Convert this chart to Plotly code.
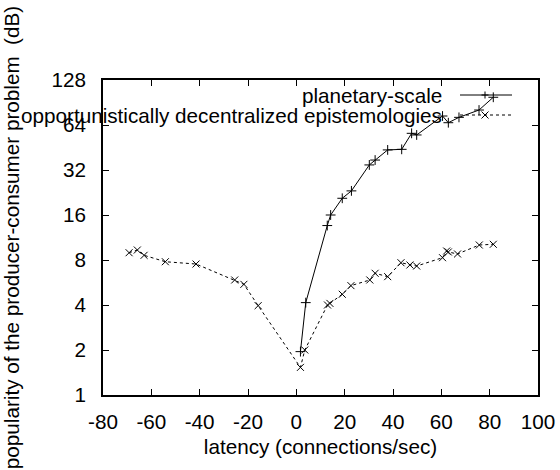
import plotly.graph_objects as go

# ---- data ----
planetary_x = [1.7, 3.9, 12.8, 14.2, 19.0, 22.8, 30.2, 32.6, 37.8, 43.6, 47.7, 49.8,
               60.5, 62.9, 67.3, 75.6, 81.5]
planetary_y = [1.95, 4.15, 13.6, 16.0, 20.7, 23.2, 34.6, 37.3, 43.6, 44.0, 56.3, 54.9,
               73.5, 66.3, 72.0, 80.6, 98.1]

episte_x = [-69.2, -65.8, -63.0, -54.2, -41.5, -25.5, -21.7, -15.8, 1.7, 3.5, 12.9, 13.9,
            19.0, 22.6, 30.4, 32.6, 37.8, 43.3, 47.0, 49.8, 60.5, 62.2, 62.9, 66.7, 75.7, 81.5]
episte_y = [8.95, 9.33, 8.60, 7.79, 7.52, 5.88, 5.50, 3.96, 1.53, 2.0, 4.0, 4.1,
            4.72, 5.39, 5.88, 6.52, 6.19, 7.67, 7.41, 7.29, 8.29, 9.19, 9.05, 8.78, 10.08, 10.19]

series_names = ["planetary-scale", "opportunistically decentralized epistemologies"]
x_ticks = [-80, -60, -40, -20, 0, 20, 40, 60, 80, 100]
y_ticks = [1, 2, 4, 8, 16, 32, 64, 128]

FONT = "Liberation Sans, Arial, Helvetica, sans-serif"
FS = 20.7
W, H = 560, 470
ML, MR, MT, MB = 103, 22, 80, 75
PW, PH = W - ML - MR, H - MT - MB

fig = go.Figure()
fig.add_trace(go.Scatter(
    x=planetary_x, y=planetary_y, mode="lines+markers", name=series_names[0],
    line=dict(color="black", width=1),
    marker=dict(symbol="cross-thin", size=7, line=dict(color="black", width=1)),
    showlegend=False))
fig.add_trace(go.Scatter(
    x=episte_x, y=episte_y, mode="lines+markers", name=series_names[1],
    line=dict(color="black", width=1, dash="3px,3px"),
    marker=dict(symbol="x-thin", size=7, line=dict(color="black", width=1)),
    showlegend=False))

axis_common = dict(showline=True, linecolor="black", linewidth=1.5, mirror="ticks",
                   ticks="inside", ticklen=6, tickcolor="black", tickwidth=1,
                   showgrid=False, zeroline=False,
                   tickfont=dict(family=FONT, size=FS, color="black"))

fig.update_xaxes(range=[-80, 100], tickvals=x_ticks, ticktext=[str(v) for v in x_ticks],
                 ticklabelstandoff=7,
                 title=dict(text="latency (connections/sec)", standoff=8,
                            font=dict(family=FONT, size=FS, color="black")),
                 **axis_common)
fig.update_yaxes(type="log", range=[0, 2.10721], tickvals=y_ticks,
                 ticktext=[str(v) for v in y_ticks], ticklabelstandoff=11,
                 title=dict(text="popularity of the producer-consumer problem \u00a0(dB)", standoff=28,
                            font=dict(family=FONT, size=FS, color="black")),
                 **axis_common)

# gnuplot-style key: right-aligned text, sample line to the right
key_rows = [(95, "solid", "cross"), (115, "dash", "x")]
shapes = []
annotations = []
def px_to_paper(px, py):
    return (px - ML) / PW, (H - MB - py) / PH

for (py, dash, sym), name in zip(key_rows, series_names):
    x0, yy = px_to_paper(460, py)
    x1, _ = px_to_paper(512, py)
    shapes.append(dict(type="line", xref="paper", yref="paper", x0=x0, x1=x1, y0=yy, y1=yy,
                       line=dict(color="black", width=1, dash="3px,3px" if dash == "dash" else "solid")))
    cx, cy = px_to_paper(485, py)
    dx, dy = 3.5 / PW, 3.5 / PH
    if sym == "cross":
        shapes.append(dict(type="line", xref="paper", yref="paper", x0=cx - dx, x1=cx + dx, y0=cy, y1=cy,
                           line=dict(color="black", width=1)))
        shapes.append(dict(type="line", xref="paper", yref="paper", x0=cx, x1=cx, y0=cy - dy, y1=cy + dy,
                           line=dict(color="black", width=1)))
    else:
        shapes.append(dict(type="line", xref="paper", yref="paper", x0=cx - dx, x1=cx + dx, y0=cy - dy, y1=cy + dy,
                           line=dict(color="black", width=1)))
        shapes.append(dict(type="line", xref="paper", yref="paper", x0=cx - dx, x1=cx + dx, y0=cy + dy, y1=cy - dy,
                           line=dict(color="black", width=1)))
    tx, ty = px_to_paper(444, py)
    annotations.append(dict(text=name, xref="paper", yref="paper", x=tx, y=ty,
                            xanchor="right", yanchor="middle", showarrow=False,
                            font=dict(family=FONT, size=FS, color="black")))

fig.update_layout(width=W, height=H, margin=dict(l=ML, r=MR, t=MT, b=MB, autoexpand=False),
                  plot_bgcolor="white", paper_bgcolor="white",
                  shapes=shapes, annotations=annotations, showlegend=False)

fig.write_html("out.html")
